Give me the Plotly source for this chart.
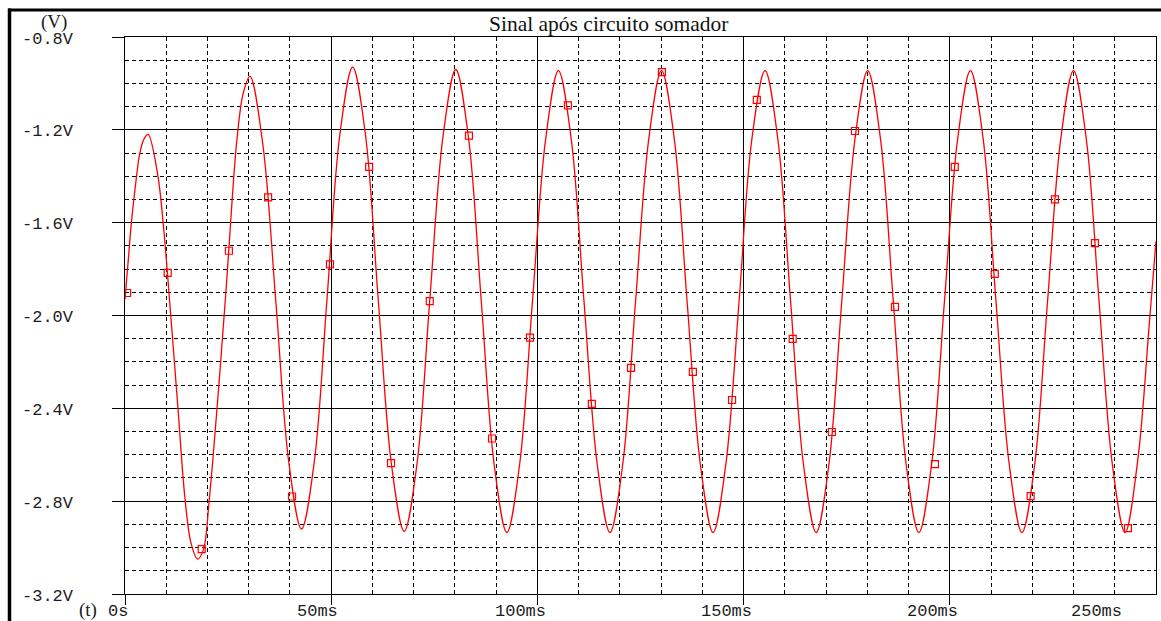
import plotly.graph_objects as go

# Output of the summing circuit: time in ms, voltage in V
t_ms = [
    0.0, 0.8, 1.6, 2.6, 3.6, 4.6, 5.6, 7.9, 9.3, 10.3, 12.8, 14.5, 16.0, 17.6,
    19.0, 20.4, 22.4, 24.5, 25.2, 27.1, 28.7,
    30.3, 33.4, 36.6, 39.7, 42.8, 45.9, 49.0, 52.1,
    55.2, 58.3, 61.4, 64.6, 67.7, 70.8, 73.9, 77.1,
    80.2, 83.3, 86.4, 89.5, 92.6, 95.7, 98.8, 102.0,
    105.1, 108.2, 111.3, 114.5, 117.6, 120.7, 123.8, 127.0,
    130.1, 133.2, 136.3, 139.5, 142.6, 145.7, 148.9, 152.0,
    155.2, 158.3, 161.4, 164.5, 167.6, 170.7, 173.8, 177.0,
    180.1, 183.2, 186.3, 189.4, 192.5, 195.6, 198.7, 201.9,
    205.0, 208.1, 211.2, 214.4, 217.5, 220.6, 223.7, 226.9,
    230.0, 233.1, 236.2, 239.4, 242.5, 245.6, 248.4, 250.0,
]
v_out = [
    -1.93, -1.76, -1.59, -1.43, -1.30, -1.24, -1.22, -1.39, -1.61, -1.82, -2.39, -2.78, -2.98, -3.05,
    -3.01, -2.80, -2.38, -1.89, -1.71, -1.25, -1.04,
    -0.97, -1.26, -1.945, -2.63, -2.92, -2.63, -1.925, -1.22,
    -0.93, -1.22, -1.93, -2.64, -2.93, -2.64, -1.935, -1.23,
    -0.94, -1.235, -1.94, -2.64, -2.935, -2.64, -1.94, -1.24,
    -0.945, -1.24, -1.94, -2.64, -2.935, -2.64, -1.94, -1.24,
    -0.945, -1.24, -1.94, -2.64, -2.935, -2.64, -1.94, -1.24,
    -0.945, -1.24, -1.94, -2.64, -2.935, -2.64, -1.94, -1.24,
    -0.945, -1.24, -1.94, -2.64, -2.935, -2.64, -1.94, -1.24,
    -0.945, -1.24, -1.94, -2.64, -2.935, -2.64, -1.94, -1.24,
    -0.945, -1.24, -1.94, -2.64, -2.935, -2.62, -2.03, -1.68,
]

# Trace symbols placed along the waveform
marker_t = [
    0.5, 10.35, 18.6, 25.2, 34.7, 40.5, 49.7, 59.2, 64.5, 73.9, 83.4, 89.0,
    98.2, 107.4, 113.2, 122.7, 130.2, 137.7, 147.2, 153.2, 161.9, 171.4,
    177.0, 186.7, 196.4, 201.2, 210.9, 219.6, 225.5, 235.2, 243.2,
]
marker_v = [
    -1.903, -1.816, -3.007, -1.721, -1.491, -2.780, -1.780, -1.360, -2.636, -1.938, -1.225, -2.530,
    -2.095, -1.095, -2.381, -2.226, -0.951, -2.243, -2.364, -1.071, -2.101, -2.502,
    -1.205, -1.963, -2.640, -1.360, -1.821, -2.778, -1.500, -1.688, -2.916,
]

y_ticks = [-3.2, -2.8, -2.4, -2.0, -1.6, -1.2, -0.8]
y_labels = ["-3.2V", "-2.8V", "-2.4V", "-2.0V", "-1.6V", "-1.2V", "-0.8V"]
x_ticks = [0, 50, 100, 150, 200, 250]
x_labels = ["0s", "50ms", "100ms", "150ms", "200ms", "250ms"]
title_text = "Sinal após circuito somador"

# Figure geometry (pixels)
W, H = 1161, 621
L, R, T, B = 125, 5, 37, 27
PW, PH = W - L - R, H - T - B
X_MAX = 250.0


def paper_x(px):
    return (px - L) / PW


def paper_y(py):
    return (H - B - py) / PH


MONO = "Liberation Mono"
SERIF = "Liberation Serif"
TXT = "#1c1c1c"

fig = go.Figure()
fig.add_trace(go.Scatter(
    x=t_ms, y=v_out, mode="lines",
    line=dict(color="#ff0000", width=1.3, shape="spline", smoothing=1.0),
    hoverinfo="skip",
))
fig.add_trace(go.Scatter(
    x=marker_t, y=marker_v, mode="markers",
    marker=dict(symbol="square-open", size=7, color="#ff0000",
                line=dict(width=1.2, color="#ff0000")),
    hoverinfo="skip",
))

annotations = []
# y tick labels, set well to the left of the tick marks
for v, lab in zip(y_ticks, y_labels):
    annotations.append(dict(
        x=0, xref="paper", xanchor="right", xshift=-49,
        y=v, yref="y", yanchor="middle", yshift=-2,
        text=lab, showarrow=False, font=dict(family=MONO, size=17, color=TXT),
    ))
# x tick labels, drawn slightly left of their ticks; the last one is kept inside the frame
for v, lab in zip(x_ticks, x_labels):
    shift = -3.4 * len(lab)
    if v >= X_MAX:
        shift = -60
    annotations.append(dict(
        x=v, xref="x", xanchor="center", xshift=shift,
        y=0, yref="paper", yanchor="middle", yshift=-17,
        text=lab, showarrow=False, font=dict(family=MONO, size=17, color=TXT),
    ))
annotations += [
    dict(x=0, xref="paper", xanchor="center", xshift=-71,
         y=1, yref="paper", yanchor="middle", yshift=15,
         text="(V)", showarrow=False, font=dict(family=SERIF, size=19, color=TXT)),
    dict(x=0, xref="paper", xanchor="center", xshift=-37,
         y=0, yref="paper", yanchor="middle", yshift=-16,
         text="(t)", showarrow=False, font=dict(family=SERIF, size=19, color=TXT)),
    dict(x=paper_x(608), xref="paper", xanchor="center",
         y=1, yref="paper", yanchor="middle", yshift=13,
         text=title_text, showarrow=False, font=dict(family=SERIF, size=21.5, color="#111111")),
]

# heavy window frame along the top and left
shapes = [
    dict(type="line", xref="paper", yref="paper",
         x0=paper_x(8), x1=paper_x(W + 2), y0=paper_y(10), y1=paper_y(10),
         line=dict(color="black", width=3)),
    dict(type="line", xref="paper", yref="paper",
         x0=paper_x(9.5), x1=paper_x(9.5), y0=paper_y(8.5), y1=paper_y(H + 2),
         line=dict(color="black", width=3.5)),
]

dash = "4px,3px"
fig.update_layout(
    width=W, height=H,
    margin=dict(l=L, r=R, t=T, b=B, pad=0),
    paper_bgcolor="white", plot_bgcolor="white",
    showlegend=False,
    annotations=annotations,
    shapes=shapes,
    xaxis=dict(
        range=[0, X_MAX], tickmode="array",
        tickvals=[v for v in x_ticks if v < X_MAX],
        showticklabels=False, ticks="outside", ticklen=10, tickwidth=1, tickcolor="black",
        showline=True, linecolor="black", linewidth=1, mirror=True,
        showgrid=True, gridcolor="black", gridwidth=1, zeroline=False,
        minor=dict(dtick=10, tick0=0, showgrid=True, gridcolor="black",
                   gridwidth=1, griddash=dash, ticks=""),
    ),
    yaxis=dict(
        range=[y_ticks[0], y_ticks[-1]], tickmode="array", tickvals=y_ticks,
        showticklabels=False, ticks="outside", ticklen=12, tickwidth=1, tickcolor="black",
        showline=True, linecolor="black", linewidth=1, mirror=True,
        showgrid=True, gridcolor="black", gridwidth=1, zeroline=False,
        minor=dict(dtick=0.1, tick0=-3.2, showgrid=True, gridcolor="black",
                   gridwidth=1, griddash=dash, ticks=""),
    ),
)

fig.write_html("out.html", config={"displayModeBar": False})
